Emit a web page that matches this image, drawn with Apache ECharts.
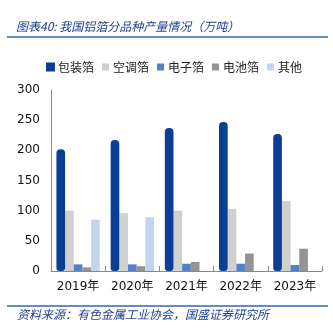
<!DOCTYPE html>
<html><head><meta charset="utf-8">
<script src="https://cdn.jsdelivr.net/npm/echarts@6/dist/echarts.min.js"></script>
<style>html,body{margin:0;padding:0;background:#fff}#c{width:333px;height:329px}</style>
</head><body><div id="c"></div>
<script>
const categories = ['2019年','2020年','2021年','2022年','2023年'];
const seriesNames = ['包装箔','空调箔','电子箔','电池箔','其他'];
const packaging = [202, 217, 237, 247, 227];
const aircon = [100, 96, 100, 103, 116];
const electronic = [11, 11, 12, 12, 10];
const battery = [6, 8, 15, 29, 37];
const others = [85, 89, null, null, null];
const yTicks = [0, 50, 100, 150, 200, 250, 300];

const colors = ['#0B3F96', '#D0D0D0', '#4F82C6', '#949494', '#C3D5EE'];
const dataSets = [packaging, aircon, electronic, battery, others];
const cjk = '"DejaVu Sans","Noto Sans CJK SC",sans-serif';

const chart = echarts.init(document.getElementById('c'));
chart.setOption({
  animation: false,
  color: colors,
  title: {
    text: '图表40: 我国铝箔分品种产量情况（万吨）',
    left: 11, top: 15,
    textStyle: {fontSize: 12, fontStyle: 'italic', fontWeight: 'normal', color: '#1F3F8F', fontFamily: '"Noto Sans CJK SC",sans-serif'}
  },
  legend: {
    top: 56, left: 41,
    itemWidth: 7, itemHeight: 7, itemGap: 8,
    icon: 'rect',
    textStyle: {fontSize: 12, color: '#222', fontFamily: '"Noto Sans CJK SC",sans-serif', padding: [0,0,0,-1]},
    data: seriesNames
  },
  grid: {left: 51, right: 11, top: 90, bottom: 58},
  xAxis: {
    type: 'category', data: categories,
    axisLine: {lineStyle: {color: '#888', width: 1}},
    axisTick: {show: true, inside: true, length: 5, lineStyle: {color: '#888'}},
    axisLabel: {interval: 0, fontSize: 12, color: '#111', margin: 10, fontFamily: cjk}
  },
  yAxis: {
    type: 'value', min: yTicks[0], max: yTicks[yTicks.length-1], interval: 50,
    axisLine: {show: true, lineStyle: {color: '#888'}},
    axisTick: {show: false},
    splitLine: {show: false},
    axisLabel: {fontSize: 12, color: '#111', margin: 11, fontFamily: cjk}
  },
  graphic: [
    {type: 'line', shape: {x1: 7, y1: 37, x2: 328, y2: 37}, style: {stroke: '#3566AE', lineWidth: 1.5}},
    {type: 'line', shape: {x1: 7, y1: 306, x2: 328, y2: 306}, style: {stroke: '#3566AE', lineWidth: 1.5}},
    {type: 'text', left: 17, top: 308, style: {text: '资料来源：有色金属工业协会，国盛证券研究所', fontSize: 12, fontStyle: 'italic', fill: '#1F3F8F', fontFamily: '"Noto Sans CJK SC",sans-serif'}}
  ],
  series: seriesNames.map((n, i) => ({
    name: n, type: 'bar', data: dataSets[i],
    barGap: '0%', barCategoryGap: '20%',
    z: i === 0 ? 3 : 2,
    itemStyle: i === 0
      ? {color: colors[i], borderColor: colors[i], borderWidth: 2, borderRadius: [3,3,2,2]}
      : {color: colors[i]}
  }))
});
</script></body></html>
